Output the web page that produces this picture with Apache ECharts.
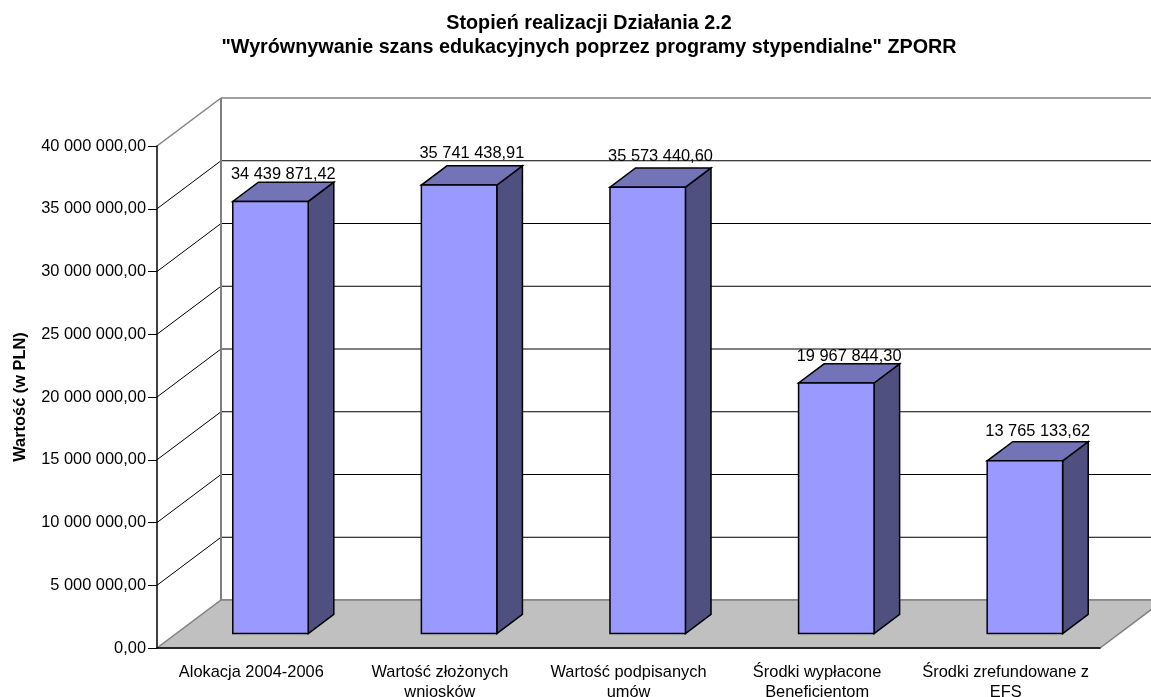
<!DOCTYPE html>
<html><head><meta charset="utf-8">
<style>html,body{margin:0;padding:0;background:#fff}#c{width:1151px;height:697px}</style>
<script src="https://cdn.jsdelivr.net/npm/echarts@6/dist/echarts.min.js"></script>
</head><body><div id="c"></div>
<script>
const categories = ['Alokacja 2004-2006','Wartość złożonych\nwniosków','Wartość podpisanych\numów','Środki wypłacone\nBeneficjentom','Środki zrefundowane z\nEFS'];
const values = [34439871.42,35741438.91,35573440.60,19967844.30,13765133.62];
const valueLabels = ['34 439 871,42','35 741 438,91','35 573 440,60','19 967 844,30','13 765 133,62'];
const yTicks = [0,5000000,10000000,15000000,20000000,25000000,30000000,35000000,40000000];
const tickLabels = ['0,00','5 000 000,00','10 000 000,00','15 000 000,00','20 000 000,00','25 000 000,00','30 000 000,00','35 000 000,00','40 000 000,00'];
const yMax = 40000000;
const DX = 64, DY = -48, FONT = 'Liberation Sans, Arial, sans-serif', FS = 16.4;
const LABEL_LIFT = [-7.5,-12.5,-11.5,-7.5,-10.5];
const GRAY = '#808080';
const chart = echarts.init(document.getElementById('c'), null, {renderer:'canvas'});
function wallItem(params, api){
  const v = api.value(0);
  const p = api.coord([0, v]);
  const left = params.coordSys.x, right = left + params.coordSys.width;
  const isEnd = v === 0 || v === yMax;
  const col = v === 0 ? GRAY : '#000';
  const children = [];
  if (v !== 0) children.push({type:'line',shape:{x1:left,y1:p[1],x2:left+DX,y2:p[1]+DY},style:{stroke:v===yMax?GRAY:'#000',lineWidth:v===yMax?1.5:1}});
  children.push({type:'line',shape:{x1:left+DX,y1:p[1]+DY,x2:right+DX,y2:p[1]+DY},style:{stroke:isEnd?GRAY:col,lineWidth:isEnd?1.6:1}});
  return {type:'group',children};
}
function floorItem(params, api){
  const a = api.coord([0,0]);
  const left = params.coordSys.x, right = left + params.coordSys.width, top = api.coord([0,yMax])[1];
  return {type:'group',children:[
    {type:'line',shape:{x1:left+DX,y1:top+DY,x2:left+DX,y2:a[1]+DY},style:{stroke:GRAY,lineWidth:2}},
    {type:'polygon',shape:{points:[[left,a[1]],[right,a[1]],[right+DX,a[1]+DY],[left+DX,a[1]+DY]]},style:{fill:'#c0c0c0',stroke:GRAY,lineWidth:1.5}}
  ]};
}
function barItem(params, api){
  const i = api.value(0), v = api.value(1);
  const bottom = api.coord([i,0]), topP = api.coord([i,v]);
  const w = api.size([1,0])[0]*0.4;
  const x0 = bottom[0]-w/2+DX*0.3, x1 = x0+w;
  const y0 = bottom[1]+DY*0.3, y1 = topP[1]+DY*0.3;
  const ox = DX*0.4, oy = DY*0.4;
  const st = f => ({fill:f,stroke:'#000',lineWidth:1.5,lineJoin:'miter'});
  return {type:'group',children:[
    {type:'polygon',shape:{points:[[x1,y0],[x1+ox,y0+oy],[x1+ox,y1+oy],[x1,y1]]},style:st('#4f4f80')},
    {type:'polygon',shape:{points:[[x0,y1],[x1,y1],[x1+ox,y1+oy],[x0+ox,y1+oy]]},style:st('#7373b8')},
    {type:'polygon',shape:{points:[[x0,y0],[x1,y0],[x1,y1],[x0,y1]]},style:st('#9999ff')},
    {type:'text',style:{x:x0+(w+ox)/2,y:y1+oy+LABEL_LIFT[i],text:valueLabels[i],fill:'#000',font:FS+'px '+FONT,align:'center',verticalAlign:'middle'}}
  ]};
}
chart.setOption({
  animation:false,
  backgroundColor:'#fff',
  title:{text:'Stopień realizacji Działania 2.2\n"Wyrównywanie szans edukacyjnych poprzez programy stypendialne" ZPORR',
    left:584,top:7,textAlign:'center',
    textStyle:{fontFamily:FONT,fontSize:19.75,fontWeight:'bold',color:'#000',lineHeight:24,align:'center'}},
  grid:{left:157,top:146,width:943,height:502,outerBoundsMode:'none'},
  xAxis:{type:'category',data:categories,z:5,
    axisLine:{lineStyle:{color:'#000',width:1.5}},
    axisTick:{length:8,lineStyle:{color:'#000',width:1},alignWithLabel:false},
    axisLabel:{color:'#000',fontFamily:FONT,fontSize:FS,margin:14,lineHeight:20,interval:0}},
  yAxis:{type:'value',min:0,max:yMax,interval:5000000,z:5,
    name:'Wartość (w PLN)',nameLocation:'middle',nameGap:129,nameRotate:90,
    nameTextStyle:{fontFamily:FONT,fontSize:16.4,fontWeight:'bold',color:'#000'},
    axisLine:{show:true,lineStyle:{color:'#000',width:1.5}},
    axisTick:{show:true,length:9,lineStyle:{color:'#000',width:1}},
    splitLine:{show:false},
    axisLabel:{color:'#000',fontFamily:FONT,fontSize:FS,margin:11,formatter:(v)=>tickLabels[yTicks.indexOf(v)]}},
  series:[
    {type:'custom',z:1,clip:false,data:yTicks.map(v=>[v]),encode:{y:0},renderItem:wallItem,silent:true},
    {type:'custom',z:2,clip:false,data:[[0]],renderItem:floorItem,silent:true},
    {type:'custom',z:3,clip:false,data:values.map((v,i)=>[i,v]),encode:{x:0,y:1},renderItem:barItem,silent:true}
  ]
});
</script></body></html>
